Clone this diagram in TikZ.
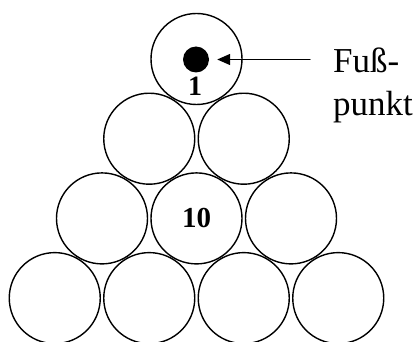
\documentclass[tikz,border=0pt]{standalone}
\usepackage{fontspec}
\setmainfont{Liberation Serif}
\usetikzlibrary{arrows.meta, positioning}
\tikzset{every path/.style={line cap=round, line join=round}, >={Triangle[length=13pt, width=11pt]}}
\tikzset{ball/.style={draw, circle, line width=1.4pt, minimum size=91pt, inner sep=0pt}}

\begin{document}
\begin{tikzpicture}[x=1pt, y=-1pt]
    \useasboundingbox (0,0) rectangle (417,342);
    % pyramid of balls, rows from the top
    \foreach \row in {0,...,3} {
        \foreach \col in {0,...,\row} {
            \node [ball] (b-\row-\col) at ({196.5 + 94.5*(\col - \row/2)}, {59 + 79.7*\row}) {};
        }
    }
    \node [circle, fill, inner sep=0pt, minimum size=26pt] (foot) at (196,59.5) {};
    \node [font=\fontsize{28pt}{28pt}\selectfont\bfseries] (one) at (195,86) {1};
    \node [font=\fontsize{29pt}{29pt}\selectfont\bfseries] (ten) at (b-2-1) {10};
    \node [
        anchor=base west,
        align=left,
        inner sep=0pt,
        font=\fontsize{35pt}{43pt}\selectfont
    ] (text) at (333,115) {Fuß-\\punkt};
    \coordinate (tail) at (310,59.5);
    \draw [->, line width=1.4pt, shorten >=8pt] (tail) -- (foot);
\end{tikzpicture}
\end{document}
